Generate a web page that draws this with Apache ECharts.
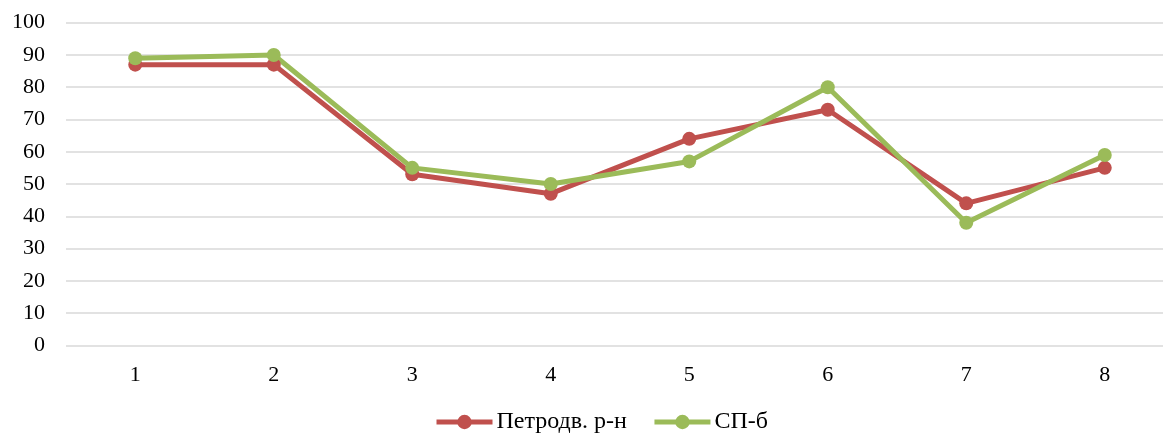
<!DOCTYPE html>
<html>
<head>
<meta charset="utf-8">
<script src="https://cdn.jsdelivr.net/npm/echarts@6/dist/echarts.min.js"></script>
<style>html,body{margin:0;padding:0;background:#fff;overflow:hidden}#c{width:1180px;height:439px}</style>
</head>
<body>
<div id="c"></div>
<script>
var categories = ['1','2','3','4','5','6','7','8'];
var seriesNames = ['Петродв. р-н','СП-б'];
var petrodv = [87, 87, 53, 47, 64, 73, 44, 55];
var spb = [89, 90, 55, 50, 57, 80, 38, 59];
var colors = ['#C0504D', '#9BBB59'];
var font = 'Liberation Serif, Times New Roman, serif';

var chart = echarts.init(document.getElementById('c'), null, {renderer: 'canvas'});
function mk(name, data, color) {
  return {
    name: name, type: 'line', data: data,
    symbol: 'circle', symbolSize: 14,
    lineStyle: {color: color, width: 5},
    itemStyle: {color: color},
    animation: false
  };
}
chart.setOption({
  animation: false,
  grid: {left: 66, width: 1108, top: 22.7, height: 322.6, containLabel: false},
  legend: {
    top: 410, left: 434, padding: 0,
    itemWidth: 56, itemHeight: 18, itemGap: 25,
    lineStyle: {width: 5},
    textStyle: {fontFamily: font, fontSize: 24, color: '#000', padding: [0, 0, 0, -1]},
    data: seriesNames
  },
  xAxis: {
    type: 'category', data: categories, boundaryGap: true,
    axisLine: {show: false}, axisTick: {show: false},
    axisLabel: {fontFamily: font, fontSize: 22, color: '#000', margin: 19}
  },
  yAxis: {
    type: 'value', min: 0, max: 100, interval: 10,
    axisLine: {show: false}, axisTick: {show: false},
    axisLabel: {fontFamily: font, fontSize: 22, color: '#000', margin: 21},
    splitLine: {lineStyle: {color: '#D9D9D9', width: 1.5}}
  },
  series: [mk(seriesNames[0], petrodv, colors[0]), mk(seriesNames[1], spb, colors[1])]
});
</script>
</body>
</html>
